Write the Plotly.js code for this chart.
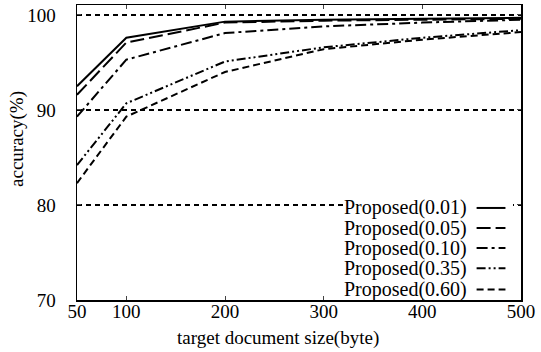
<!DOCTYPE html>
<html><head><meta charset="utf-8">
<script src="https://cdn.plot.ly/plotly-3.0.1.min.js"></script>
<style>body{margin:0;background:#fff}#c{width:541px;height:352px}</style>
</head><body><div id="c"></div>
<script>
const sizes = [50, 100, 200, 300, 400, 500];
const names = ["Proposed(0.01)", "Proposed(0.05)", "Proposed(0.10)", "Proposed(0.35)", "Proposed(0.60)"];
const acc001 = [92.5, 97.6, 99.3, 99.5, 99.6, 99.7];
const acc005 = [91.6, 97.1, 99.2, 99.4, 99.5, 99.6];
const acc010 = [89.3, 95.3, 98.1, 98.8, 99.2, 99.5];
const acc035 = [84.2, 90.7, 95.1, 96.6, 97.6, 98.4];
const acc060 = [82.3, 89.3, 94.0, 96.4, 97.4, 98.2];
const yTicks = [70, 80, 90, 100];
const xTicks = [50, 100, 200, 300, 400, 500];
const xTitle = "target document size(byte)";
const yTitle = "accuracy(%)";

const series = [acc001, acc005, acc010, acc035, acc060];
const dashes = ["solid", "14px,5px", "11px,4px,3px,4px", "9px,3px,2px,3px,2px,3px", "7px,4px"];

const traces = series.map((s, i) => ({
  x: sizes, y: s, type: "scatter", mode: "lines", name: names[i],
  line: {color: "#000", width: 2, dash: dashes[i]}, showlegend: false
}));

const fam = "Liberation Serif, Times New Roman, serif";
const shapes = [{type: "rect", xref: "paper", yref: "paper", x0: 0.6, x1: 0.982, y0: 0.005, y1: 0.35,
  fillcolor: "#fff", line: {width: 0}, layer: "above"}];
const annotations = [
  {xref: "paper", yref: "paper", x: 0.453, y: -0.13, text: xTitle, showarrow: false,
   xanchor: "center", yanchor: "middle", font: {family: fam, size: 19, color: "#000"}},
  {xref: "paper", yref: "paper", x: -0.135, y: 0.546, text: yTitle, showarrow: false, textangle: -90,
   xanchor: "center", yanchor: "middle", font: {family: fam, size: 19, color: "#000"}}
];
const rowY = [0.312, 0.244, 0.176, 0.108, 0.036];
names.forEach((n, i) => {
  annotations.push({xref: "paper", yref: "paper", x: 0.882, y: rowY[i], text: n, showarrow: false,
    xanchor: "right", yanchor: "middle", font: {family: fam, size: 20, color: "#000"}});
  shapes.push({type: "line", xref: "paper", yref: "paper", x0: 0.9, x1: 0.965, y0: rowY[i], y1: rowY[i],
    line: {color: "#000", width: 2, dash: dashes[i]}, layer: "above"});
});

const layout = {
  width: 541, height: 352,
  margin: {l: 77, r: 20, t: 5, b: 52},
  paper_bgcolor: "#fff", plot_bgcolor: "#fff",
  font: {family: fam, size: 19, color: "#000"},
  xaxis: {range: [50, 500], tickvals: xTicks, ticktext: xTicks.map(String), ticks: "inside", ticklen: 4,
    showline: true, linecolor: "#000", linewidth: 1.5, mirror: "ticks", showgrid: false, zeroline: false,
    tickfont: {family: fam, size: 19}, ticklabelstandoff: -6},
  yaxis: {range: [70, 101.05], tickvals: yTicks, ticks: "inside", ticklen: 4,
    showline: true, linecolor: "#000", linewidth: 1.5, mirror: "ticks",
    showgrid: true, gridcolor: "#000", gridwidth: 1.5, griddash: "5px,4px", zeroline: false,
    tickfont: {family: fam, size: 19}, ticklabelstandoff: 16},
  shapes: shapes, annotations: annotations
};
Plotly.newPlot("c", traces, layout, {staticPlot: true});
</script></body></html>
